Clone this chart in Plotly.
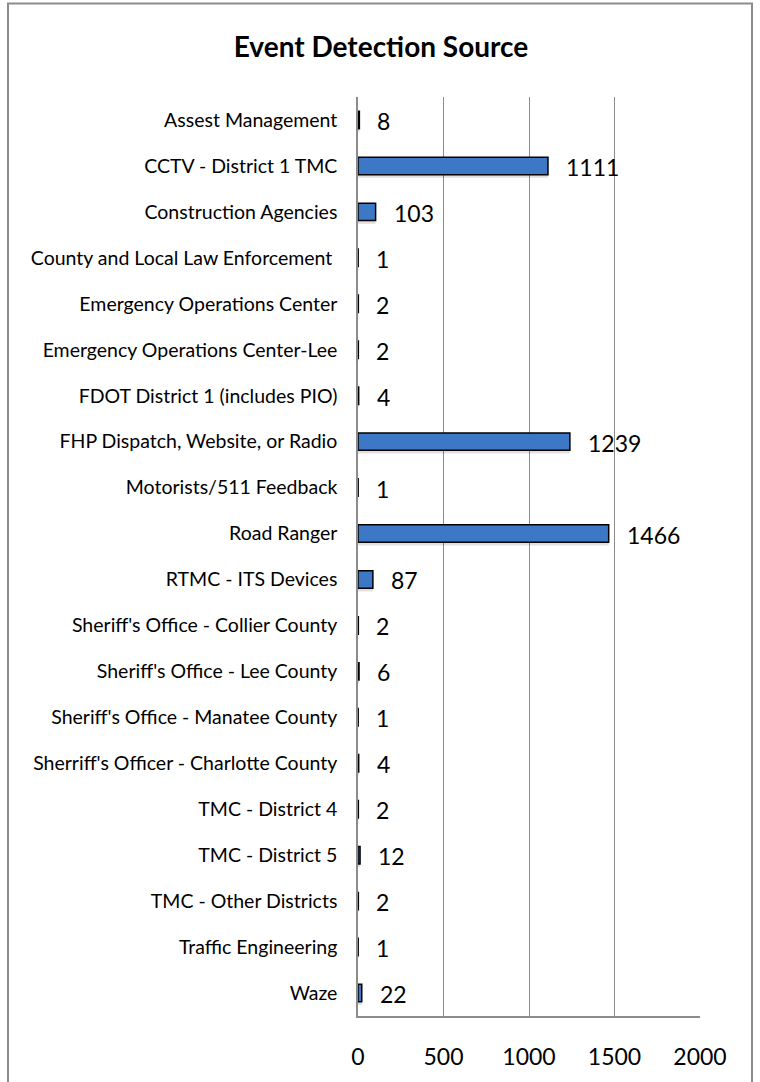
import plotly.graph_objects as go

categories = [
    "Assest Management",
    "CCTV - District 1 TMC",
    "Construction Agencies",
    "County and Local Law Enforcement\u00a0",
    "Emergency Operations Center",
    "Emergency Operations Center-Lee",
    "FDOT District 1 (includes PIO)",
    "FHP Dispatch, Website, or Radio",
    "Motorists/511 Feedback",
    "Road Ranger",
    "RTMC - ITS Devices",
    "Sheriff's Office - Collier County",
    "Sheriff's Office - Lee County",
    "Sheriff's Office - Manatee County",
    "Sherriff's Officer - Charlotte County",
    "TMC - District 4",
    "TMC - District 5",
    "TMC - Other Districts",
    "Traffic Engineering",
    "Waze",
]
values = [8, 1111, 103, 1, 2, 2, 4, 1239, 1, 1466, 87, 2, 6, 1, 4, 2, 12, 2, 1, 22]
x_ticks = [0, 500, 1000, 1500, 2000]

FONT = "Lato"
BAR_W = 0.38

fig = go.Figure()
# soft shadow
fig.add_trace(go.Bar(
    y=categories, x=values, orientation="h",
    width=BAR_W, offset=-BAR_W / 2 + 0.07,
    marker=dict(color="rgba(0,0,0,0.12)", line=dict(width=0)),
    hoverinfo="skip",
))
fig.add_trace(go.Bar(
    y=categories, x=values, orientation="h",
    width=BAR_W, offset=-BAR_W / 2,
    marker=dict(color="#3C78C5", line=dict(color="#000000", width=1.5)),
    hoverinfo="x+y",
))

for c, v in zip(categories, values):
    fig.add_annotation(
        x=v, y=c, xref="x", yref="y", text=str(v), showarrow=False,
        xanchor="left", xshift=16, yshift=-1,
        font=dict(family=FONT, size=23, color="#000000"),
    )

L, R, T, B = 358, 60, 97, 61
W, H = 760, 1082
pw, ph = W - L - R, H - T - B

# outer border (bottom edge runs past the page)
fig.add_shape(
    type="rect", xref="paper", yref="paper",
    x0=(8 - L) / pw, x1=(752 - L) / pw,
    y0=-0.3, y1=(H - B - 3) / ph,
    line=dict(color="#8C8C8C", width=2), fillcolor="rgba(0,0,0,0)", layer="below",
)

fig.update_layout(
    width=W, height=H,
    margin=dict(l=L, r=R, t=T, b=B),
    paper_bgcolor="white", plot_bgcolor="white",
    showlegend=False, barmode="overlay",
    title=dict(text="<b>Event Detection Source</b>", x=381 / W, xanchor="center",
               y=1 - 47 / H, yanchor="middle",
               font=dict(family=FONT, size=28, color="#000000")),
    xaxis=dict(
        range=[0, 2000], tickvals=x_ticks, ticktext=[str(t) for t in x_ticks],
        showgrid=True, gridcolor="#8C8C8C", gridwidth=1,
        showline=True, linecolor="#8C8C8C", linewidth=1.5,
        zeroline=False, ticks="", ticklabelstandoff=20,
        tickfont=dict(family=FONT, size=23, color="#000000"),
        fixedrange=True,
    ),
    yaxis=dict(
        autorange="reversed", showgrid=False,
        showline=True, linecolor="#8C8C8C", linewidth=1.5,
        ticks="", ticklabelstandoff=15,
        tickfont=dict(family=FONT, size=19.5, color="#000000"),
        fixedrange=True,
    ),
    font=dict(family=FONT),
)

fig.write_html(
    "out.html",
    config={"displayModeBar": False},
    post_script="document.body.style.margin='0';document.body.style.overflow='hidden';",
)
